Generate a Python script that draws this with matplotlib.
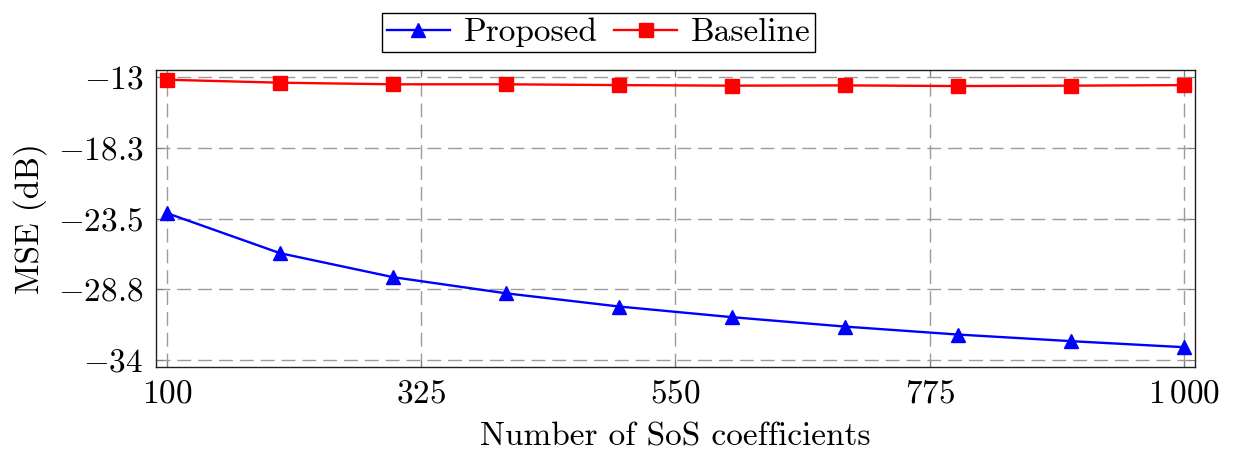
import matplotlib
matplotlib.use("Agg")
import matplotlib.pyplot as plt

# number of SoS coefficients and MSE in dB for each method
n_coeffs = [100, 200, 300, 400, 500, 600, 700, 800, 900, 1000]
mse_proposed = [-23.1, -26.07, -27.85, -29.05, -30.03, -30.82, -31.52, -32.11, -32.6, -33.05]
mse_baseline = [-13.2, -13.42, -13.54, -13.54, -13.6, -13.64, -13.62, -13.67, -13.64, -13.6]

xticks = [100, 325, 550, 775, 1000]
xtick_labels = [r"$100$", r"$325$", r"$550$", r"$775$", r"$1\,000$"]
yticks = [-34, -28.75, -23.5, -18.25, -13]
ytick_labels = [r"$-34$", r"$-28.8$", r"$-23.5$", r"$-18.3$", r"$-13$"]

plt.rcParams['font.family'] = ['cmr10']
plt.rcParams['mathtext.fontset'] = 'cm'
plt.rcParams['axes.unicode_minus'] = False
plt.rcParams['font.size'] = 24

fig = plt.figure(figsize=(12.35, 4.5), dpi=100)
ax = fig.add_axes([0.1263, 0.1844, 0.8413, 0.66])

ax.plot(n_coeffs, mse_proposed, color='blue', lw=1.7, marker='^', ms=10, label='Proposed')
ax.plot(n_coeffs, mse_baseline, color='red', lw=1.7, marker='s', ms=10, label='Baseline')

ax.set_xlim(90.3, 1009.7)
ax.set_ylim(-34.52, -12.48)
ax.set_xticks(xticks)
ax.set_xticklabels(xtick_labels)
ax.set_yticks(yticks)
ax.set_yticklabels(ytick_labels)
ax.tick_params(direction='in', top=True, right=True, length=5, width=0.8,
               color='#808080', pad=9)

ax.grid(True, color='#9c9c9c', lw=1.0, ls=(0, (10, 5)))
ax.set_axisbelow(True)
for s in ax.spines.values():
    s.set_linewidth(1.0)
    s.set_color('#202020')

ax.set_xlabel('Number of SoS coefficients', labelpad=10)
ax.set_ylabel('MSE (dB)', labelpad=8)

leg = ax.legend(loc='lower center', bbox_to_anchor=(0.426, 1.06), ncol=2,
                fancybox=False, edgecolor='black', framealpha=1,
                borderpad=0.15, handlelength=1.9, handletextpad=0.4,
                columnspacing=0.5, borderaxespad=0)
leg.get_frame().set_linewidth(1.0)

fig.savefig('out.png', dpi=100)
